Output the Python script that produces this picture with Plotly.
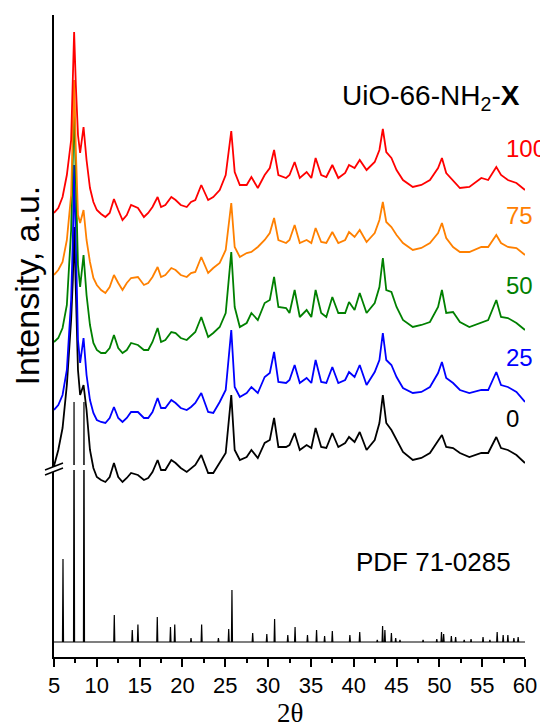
import plotly.graph_objects as go

# ---------------- data ----------------
two_theta = [5.0, 5.5, 6.0, 6.5, 7.0, 7.2, 7.35, 7.55, 7.8, 8.05,
             8.45, 8.8, 9.2, 9.6, 10.0, 10.5, 11.0, 11.5, 12.0, 12.5,
             13.0, 13.5, 14.0, 14.8, 15.5, 16.0, 16.5, 17.1, 17.5, 18.0,
             18.7, 19.2, 19.8, 20.5, 21.0, 21.5, 22.2, 23.0, 23.6, 24.35,
             25.05, 25.7, 26.1, 26.7, 27.5, 28.05, 28.8, 29.6, 30.2, 30.7,
             31.2, 32.1, 32.5, 33.1, 33.7, 34.5, 35.05, 35.55, 36.2, 36.8,
             37.5, 38.2, 39.0, 39.45, 40.1, 40.7, 41.5, 42.45, 43.0, 43.4,
             43.8, 44.4, 45.0, 45.75, 46.9, 47.9, 48.9, 49.85, 50.3, 50.8,
             51.6, 52.4, 53.5, 54.9, 55.7, 56.65, 57.2, 58.0, 59.0, 60.0]

x100 = [7, 12, 23, 45, 80, 130, 188, 135, 85, 67,
        93, 60, 32, 18, 10, 6, 3, 7, 21, 10,
        0, 5, 15, 12, 3, 7, 13, 23, 13, 15,
        23, 20, 15, 13, 18, 20, 35, 20, 23, 30,
        45, 89, 48, 35, 35, 43, 32, 45, 52, 70,
        45, 42, 45, 58, 42, 48, 42, 62, 45, 43,
        55, 42, 47, 55, 52, 60, 50, 58, 70, 91,
        68, 62, 50, 40, 33, 35, 40, 52, 62, 47,
        40, 32, 33, 42, 40, 53, 45, 40, 37, 30]

x75 = [20, 25, 33, 55, 100, 155, 215, 145, 80, 72,
       85, 55, 33, 17, 10, 5, 2, 8, 20, 12,
       5, 12, 17, 18, 10, 12, 18, 28, 18, 20,
       27, 25, 20, 18, 22, 23, 38, 22, 27, 32,
       45, 92, 48, 38, 42, 43, 48, 55, 62, 77,
       55, 52, 55, 70, 52, 55, 52, 67, 53, 52,
       63, 52, 55, 63, 58, 65, 53, 62, 75, 93,
       73, 68, 60, 52, 45, 47, 52, 62, 72, 57,
       48, 43, 43, 48, 48, 60, 52, 48, 47, 40]

x50 = [13, 17, 27, 50, 125, 185, 253, 175, 90, 68,
       100, 60, 30, 12, 5, 2, 2, 7, 20, 7,
       2, 5, 12, 10, 5, 5, 13, 27, 13, 15,
       23, 22, 17, 15, 19, 23, 38, 18, 22, 28,
       42, 103, 48, 28, 32, 42, 35, 52, 55, 78,
       48, 47, 42, 65, 38, 45, 38, 65, 42, 38,
       58, 42, 42, 53, 45, 62, 42, 52, 68, 97,
       65, 63, 48, 35, 28, 30, 33, 48, 65, 42,
       43, 33, 28, 32, 35, 55, 38, 37, 32, 25]

x25 = [15, 20, 30, 55, 125, 185, 260, 175, 85, 62,
       87, 50, 25, 12, 5, 3, 2, 7, 18, 7,
       3, 7, 13, 13, 7, 7, 13, 27, 17, 17,
       25, 22, 17, 15, 18, 22, 32, 13, 12, 23,
       35, 95, 38, 28, 32, 38, 32, 48, 52, 73,
       43, 42, 45, 60, 42, 47, 42, 65, 43, 42,
       58, 42, 45, 53, 48, 60, 40, 53, 65, 92,
       65, 60, 48, 37, 32, 33, 38, 52, 63, 47,
       42, 35, 32, 35, 35, 53, 40, 38, 33, 23]

x0 = [19, 35, 57, 100, 165, 205, 258, 185, 115, 90,
      100, 75, 35, 17, 8, 5, 3, 8, 22, 8,
      3, 7, 12, 10, 5, 7, 13, 25, 15, 15,
      25, 22, 17, 13, 17, 20, 30, 12, 12, 22,
      32, 90, 35, 25, 28, 35, 27, 42, 45, 67,
      38, 38, 40, 52, 35, 40, 37, 57, 38, 37,
      52, 38, 42, 48, 43, 53, 35, 45, 62, 90,
      62, 55, 45, 33, 25, 27, 32, 45, 50, 38,
      37, 32, 28, 32, 32, 48, 37, 35, 30, 22]

# reference card PDF 71-0285: peak positions and relative intensities
pdf_pos = [6.05, 7.34, 8.5, 12.04, 14.14, 14.8, 17.06, 18.6, 19.1, 21.0,
           22.24, 24.2, 25.4, 25.78, 28.2, 29.85, 30.76, 32.3, 33.15, 34.6,
           35.66, 36.6, 37.5, 39.55, 40.7, 42.75, 43.37, 43.64, 44.4, 44.9,
           45.4, 48.1, 49.7, 50.25, 50.5, 51.4, 51.9, 52.9, 53.7, 55.1,
           55.9, 56.75, 57.45, 58.0, 58.7, 59.2]
pdf_int = [83, 240, 240, 27, 12, 17.5, 25, 15, 17.5, 4,
           17.5, 4, 13, 52, 9, 8, 23, 7, 15, 7,
           12, 6, 11, 7, 10, 2, 16, 12, 9, 4,
           2, 2, 3, 10, 8, 6, 5, 2, 3, 5,
           2, 10, 7, 7, 4, 5]

series_labels = ["0", "25", "50", "75", "100"]
series_data = [x0, x25, x50, x75, x100]

# ---------------- styling / stacking (not data) ----------------
colors = ["#000000", "#0000FF", "#008000", "#FF8000", "#FF0000"]
offsets = [172, 232, 302, 362, 437]
label_y = [239, 300, 372, 442, 509]
pdf_offset = 15
stick_half_width = 0.06
FONT = "Liberation Sans, Arial, sans-serif"

fig = go.Figure()

# PDF stick pattern
px_, py_ = [5.0], [pdf_offset]
for p, h in zip(pdf_pos, pdf_int):
    px_ += [p - stick_half_width, p, p + stick_half_width]
    py_ += [pdf_offset, pdf_offset + h, pdf_offset]
px_.append(60.0)
py_.append(pdf_offset)
fig.add_trace(go.Scatter(x=px_, y=py_, mode="lines",
                         line=dict(color="black", width=1.2),
                         showlegend=False, hoverinfo="skip"))

for lab, ys, col, off in zip(series_labels, series_data, colors, offsets):
    fig.add_trace(go.Scatter(x=two_theta, y=[v + off for v in ys], mode="lines",
                             line=dict(color=col, width=1.8),
                             name=lab, showlegend=False))

# series labels
for lab, col, ly in zip(series_labels, colors, label_y):
    fig.add_annotation(x=57.55, y=ly, xref="x", yref="y", text=lab,
                       showarrow=False, xanchor="left", yanchor="middle",
                       font=dict(family=FONT, size=24, color=col))

fig.add_annotation(x=59.65, y=560, xref="x", yref="y",
                   text="UiO-66-NH<sub>2</sub>-<b>X</b>", showarrow=False,
                   xanchor="right", yanchor="middle",
                   font=dict(family=FONT, size=28, color="black"))
fig.add_annotation(x=58.6, y=95, xref="x", yref="y", text="PDF 71-0285",
                   showarrow=False, xanchor="right", yanchor="middle",
                   font=dict(family=FONT, size=26, color="black"))

# axis titles
fig.add_annotation(x=-0.057, y=0.579, xref="paper", yref="paper",
                   text="Intensity, a.u.", textangle=-90, showarrow=False,
                   xanchor="center", yanchor="middle",
                   font=dict(family=FONT, size=34, color="black"))
fig.add_annotation(x=0.5, y=-0.087, xref="paper", yref="paper",
                   text="2θ", showarrow=False,
                   xanchor="center", yanchor="middle",
                   font=dict(family="Liberation Serif, Times New Roman, serif",
                             size=27, color="black"))

# axis break: gap in the tall reference lines + break mark on the y axis
fig.add_shape(type="rect", x0=7.0, x1=9.0, y0=187, y1=192, xref="x", yref="y",
              fillcolor="white", line=dict(width=0), layer="above")
fig.add_shape(type="path",
              path="M -0.0191,0.2913 L 0.0191,0.3022 L 0.0191,0.2944 L -0.0191,0.2835 Z",
              xref="paper", yref="paper", fillcolor="white", line=dict(width=0),
              layer="above")
for y0, y1 in [(0.2913, 0.3022), (0.2835, 0.2944)]:
    fig.add_shape(type="line", x0=-0.0191, x1=0.0191, y0=y0, y1=y1,
                  xref="paper", yref="paper", line=dict(color="black", width=1.5),
                  layer="above")

# the page adds an 8 px body margin, so the figure is 8 px smaller
fig.update_layout(
    width=540, height=719,
    margin=dict(l=46, r=23, t=7, b=70, autoexpand=False),
    paper_bgcolor="white", plot_bgcolor="white",
    font=dict(family=FONT, size=22, color="black"),
    xaxis=dict(range=[5, 60], tickmode="array", automargin=False,
               tickvals=list(range(5, 61, 5)),
               ticks="outside", ticklen=8, tickwidth=1.5, tickcolor="black",
               minor=dict(dtick=2.5, tick0=5, ticks="outside", ticklen=4,
                          tickwidth=1.5, tickcolor="black"),
               showline=True, linecolor="black", linewidth=2,
               showgrid=False, zeroline=False,
               tickfont=dict(family=FONT, size=22)),
    yaxis=dict(range=[0, 642], showline=True, linecolor="black", linewidth=2,
               automargin=False,
               showticklabels=False, ticks="", showgrid=False, zeroline=False),
)

fig.write_html("out.html")
